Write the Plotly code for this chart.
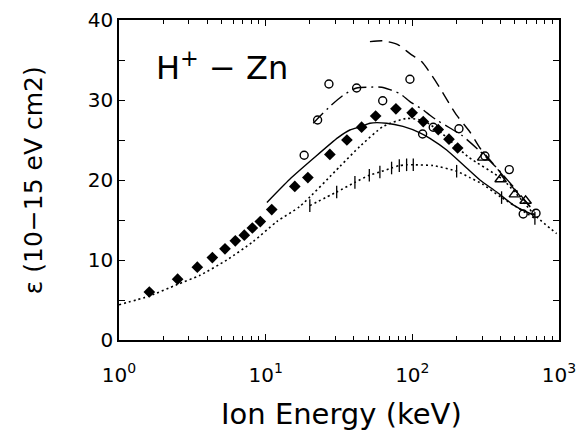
import plotly.graph_objects as go

# ---- data ----
diamond_x = [1.61, 2.51, 3.42, 4.33, 5.28, 6.21, 7.15, 8.11, 9.19, 11.0, 15.8, 19.4,
             27.4, 35.8, 45.1, 56.2, 77.3, 99.7, 118.7, 150.2, 177.8, 203.7]
diamond_y = [6.0, 7.6, 9.1, 10.3, 11.4, 12.4, 13.1, 14.0, 14.8, 16.3, 19.2, 20.3,
             23.2, 25.0, 26.6, 28.0, 28.9, 28.4, 27.3, 26.3, 25.1, 24.0]

circle_x = [18.3, 22.6, 27.0, 41.7, 62.8, 96.3, 117.5, 138.8, 207.9, 312.7, 458, 570, 697]
circle_y = [23.1, 27.5, 32.0, 31.5, 29.9, 32.6, 25.75, 26.6, 26.4, 23.0, 21.3, 15.75, 15.85]

triangle_x = [304, 400, 500, 592]
triangle_y = [22.8, 20.1, 18.2, 17.4]

bar_x = [20.0, 30.5, 40.6, 50.9, 60.1, 72.2, 81.5, 91.4, 101.5, 200.5, 406, 685]
bar_y = [16.8, 18.5, 19.7, 20.6, 21.0, 21.5, 21.8, 21.9, 21.9, 21.1, 17.8, 15.2]

solid_x = [10.2, 14.6, 21.3, 31.1, 37.5, 45.1, 51.4, 66.8, 86.3, 112.7, 131.8, 171.4,
           222, 289, 376, 487, 601, 685]
solid_y = [17.2, 20.1, 22.75, 25.3, 26.25, 26.7, 27.1, 27.1, 26.7, 25.9, 25.2, 23.75,
           21.9, 20.0, 18.5, 16.9, 16.0, 15.6]

dashdot_x = [21.1, 27.4, 33.8, 41.7, 50.0, 61.8, 70.3, 82.3, 96.3, 118.7, 131.9, 146.5,
             180.5, 216.8, 289, 377, 541, 685]
dashdot_y = [27.1, 29.2, 30.6, 31.5, 31.6, 31.6, 31.3, 30.8, 29.8, 28.75, 28.1, 27.5,
             26.5, 25.6, 23.6, 21.5, 18.2, 16.0]

dash_x = [51.4, 63.4, 80.2, 96.3, 115.7, 135.4, 154.3, 180.5, 200.4, 247, 289, 338, 376, 500, 685]
dash_y = [37.3, 37.4, 36.9, 35.8, 34.8, 33.1, 31.5, 29.4, 28.1, 26.0, 24.0, 22.5, 21.5, 18.75, 16.0]

dot_x = [1.0, 1.61, 2.47, 3.57, 5.43, 8.22, 11.9, 17.1, 32.1, 43.9, 63.4, 91.5, 120, 160,
         240, 417, 703, 963]
dot_y = [4.4, 5.5, 6.9, 8.1, 10.0, 12.3, 14.8, 16.7, 21.7, 24.2, 26.7, 27.7, 27.4, 25.8,
         22.9, 20.0, 15.4, 13.3]

dot2_x = [20.0, 30.5, 40.6, 50.9, 60.1, 72.2, 81.5, 91.4, 101.5, 139, 200.5, 247, 300, 406, 685]
dot2_y = [16.8, 18.5, 19.7, 20.6, 21.0, 21.5, 21.8, 21.9, 21.9, 21.8, 21.1, 20.3, 19.5, 17.8, 15.2]

x_tickvals = [1, 10, 100, 1000]
x_ticktext = ["10<sup>0</sup>", "10<sup>1</sup>", "10<sup>2</sup>", "10<sup>3</sup>"]
y_tickvals = [0, 10, 20, 30, 40]

FONT = "DejaVu Sans"
fig = go.Figure()

def line(x, y, dash, width=1.4):
    fig.add_trace(go.Scatter(x=x, y=y, mode="lines", line=dict(color="black", width=width, dash=dash,
                                                              shape="spline", smoothing=0.6),
                             showlegend=False, hoverinfo="skip"))

line(dot_x, dot_y, "2px,3px", 1.6)
line(dot2_x, dot2_y, "2px,3px", 1.6)
line(solid_x, solid_y, "solid", 1.4)
line(dashdot_x, dashdot_y, "14px,5px,2px,5px", 1.4)
line(dash_x, dash_y, "12px,7px", 1.4)

fig.add_trace(go.Scatter(x=bar_x, y=bar_y, mode="markers",
                         marker=dict(symbol="line-ns", size=9, line=dict(color="black", width=1.3)),
                         showlegend=False))
fig.add_trace(go.Scatter(x=diamond_x, y=diamond_y, mode="markers",
                         marker=dict(symbol="diamond", size=9, color="black"), showlegend=False))
fig.add_trace(go.Scatter(x=circle_x, y=circle_y, mode="markers",
                         marker=dict(symbol="circle-open", size=8, color="black",
                                     line=dict(color="black", width=1.4)), showlegend=False))
fig.add_trace(go.Scatter(x=triangle_x, y=triangle_y, mode="markers",
                         marker=dict(symbol="triangle-up-open", size=10, color="black",
                                     line=dict(color="black", width=1.4)), showlegend=False))

fig.update_layout(
    width=577, height=427,
    margin=dict(l=111, r=26, t=12, b=95, autoexpand=False),
    paper_bgcolor="white", plot_bgcolor="white",
    font=dict(family=FONT, color="black", size=20),
    xaxis=dict(type="log", range=[0, 3], tickvals=x_tickvals, ticktext=x_ticktext,
               ticks="inside", ticklen=6, tickwidth=1.3, tickcolor="black",
               showline=True, linecolor="black", linewidth=1.6, mirror="ticks",
               showgrid=False, zeroline=False, tickfont=dict(size=20, family=FONT),
               ticklabelstandoff=16, automargin=False,
               minor=dict(ticks="inside", ticklen=4, tickwidth=1.2, tickcolor="black",
                          dtick="D1", showgrid=False)),
    yaxis=dict(range=[0, 40], tickvals=y_tickvals,
               ticks="inside", ticklen=6, tickwidth=1.3, tickcolor="black",
               showline=True, linecolor="black", linewidth=1.6, mirror="ticks",
               showgrid=False, zeroline=False, tickfont=dict(size=20, family=FONT),
               automargin=False,
               minor=dict(ticks="inside", ticklen=6, tickwidth=1.2, tickcolor="black",
                          dtick=5, showgrid=False)),
    annotations=[
        dict(text="H<sup>+</sup> − Zn", xref="paper", yref="paper", x=0.08, y=0.855,
             xanchor="left", yanchor="middle", showarrow=False, font=dict(size=32, family=FONT)),
        dict(text="Ion Energy (keV)", xref="paper", yref="paper", x=0.505, y=-0.23,
             xanchor="center", yanchor="middle", showarrow=False, font=dict(size=29, family=FONT)),
        dict(text="ε (10−15 eV cm2)", xref="paper", yref="paper", x=-0.195, y=0.50,
             xanchor="center", yanchor="middle", textangle=-90, showarrow=False,
             font=dict(size=25, family=FONT)),
    ],
)

fig.write_html("out.html")
